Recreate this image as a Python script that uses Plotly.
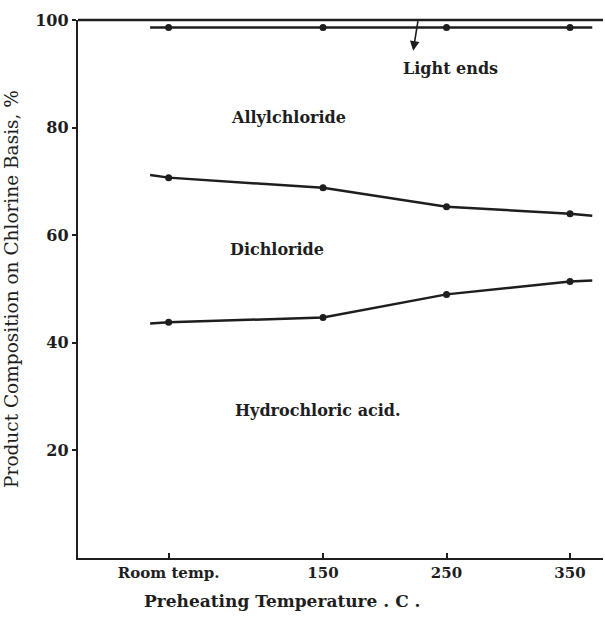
import plotly.graph_objects as go

# ---- data ----
temps = [25, 150, 250, 350]                      # preheating temperature (room temp ~25 C)
tick_labels = ["Room temp.", "150", "250", "350"]
y_ticks = [20, 40, 60, 80, 100]

# boundary curves (cumulative %)
light_ends_boundary = [98.6, 98.6, 98.6, 98.6]
allyl_boundary = [70.7, 68.8, 65.3, 64.0]
hcl_boundary = [43.8, 44.7, 49.0, 51.4]

# drawn extents of each curve beyond the measured points
ext_x = [10, 368]
light_ends_ext = [98.6, 98.6]
allyl_ext = [71.2, 63.6]
hcl_ext = [43.6, 51.6]

region_labels = ["Allylchloride", "Dichloride", "Hydrochloric acid."]
region_label_pos = [(122, 81.9), (113, 57.3), (146, 27.4)]

INK = "#1e1e1e"
FONT = "DejaVu Serif"

fig = go.Figure()

for pts, ext in [(light_ends_boundary, light_ends_ext),
                 (allyl_boundary, allyl_ext),
                 (hcl_boundary, hcl_ext)]:
    xs = [ext_x[0]] + temps + [ext_x[1]]
    ys = [ext[0]] + pts + [ext[1]]
    fig.add_trace(go.Scatter(x=xs, y=ys, mode="lines",
                             line=dict(color=INK, width=2.5),
                             hoverinfo="skip", showlegend=False))
    fig.add_trace(go.Scatter(x=temps, y=pts, mode="markers",
                             marker=dict(color=INK, size=7, symbol="circle"),
                             showlegend=False))

# region labels
for text, (x, y) in zip(region_labels, region_label_pos):
    fig.add_annotation(x=x, y=y, text="<b>" + text + "</b>", showarrow=False,
                       font=dict(family=FONT, size=16, color=INK))

# light ends label with arrow
fig.add_annotation(x=253, y=91.0, text="<b>Light ends</b>", showarrow=False,
                   font=dict(family=FONT, size=16, color=INK))
fig.add_annotation(x=223, y=94.3, text="", showarrow=True,
                   ax=5, ay=-31, arrowhead=2, arrowsize=1.2,
                   arrowwidth=1.6, arrowcolor=INK)

# top frame line
fig.add_shape(type="line", xref="paper", yref="paper", x0=0, x1=1, y0=1, y1=1,
              line=dict(color=INK, width=2.4))

# x axis title as annotation (offset left like the reference)
fig.add_annotation(xref="paper", yref="paper", x=(282 - 78) / 525, y=-0.08,
                   text="<b>Preheating Temperature . C .</b>", showarrow=False,
                   xanchor="center", yanchor="middle",
                   font=dict(family=FONT, size=17, color=INK))

fig.update_xaxes(range=[-48.4, 376.7], tickvals=temps,
                 ticktext=["<b>" + t + "</b>" for t in tick_labels],
                 showline=True, linecolor=INK, linewidth=2.4,
                 ticks="inside", ticklen=5, tickcolor=INK, tickwidth=1.5,
                 showgrid=False, zeroline=False,
                 tickfont=dict(family=FONT, size=15, color=INK))
fig.update_yaxes(range=[0, 100], tickvals=y_ticks,
                 ticktext=["<b>%d</b>" % v for v in y_ticks],
                 showline=True, linecolor=INK, linewidth=2.4,
                 ticks="outside", ticklen=4, tickcolor=INK, tickwidth=1.5,
                 showgrid=False, zeroline=False,
                 tickfont=dict(family=FONT, size=16, color=INK),
                 title=dict(text="Product Composition on Chlorine Basis, %",
                            font=dict(family=FONT, size=18.5, color=INK),
                            standoff=12))

fig.update_layout(width=605, height=620,
                  margin=dict(l=78, r=2, t=20, b=62),
                  paper_bgcolor="white", plot_bgcolor="white",
                  showlegend=False)

fig.write_html("out.html")
